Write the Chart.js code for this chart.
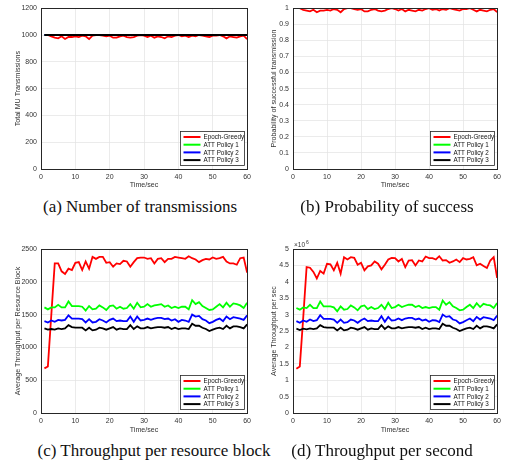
<!DOCTYPE html>
<html>
<head>
<meta charset="utf-8">
<script src="https://cdn.jsdelivr.net/npm/chart.js@4"></script>
<style>
  body { margin: 0; background: #fff; }
  #page { position: relative; width: 505px; height: 467px; overflow: hidden; }
  canvas { position: absolute; }
  .cap { position: absolute; font-family: "Liberation Serif", "DejaVu Serif", serif; font-size: 17px; color: #111; white-space: nowrap; transform: translate(-50%, -50%); }
</style>
</head>
<body>
<div id="page">
  <canvas id="chartA" width="255" height="192" style="left:0;top:0"></canvas>
  <canvas id="chartB" width="255" height="192" style="left:250px;top:0"></canvas>
  <canvas id="chartC" width="255" height="205" style="left:0;top:230px"></canvas>
  <canvas id="chartD" width="255" height="205" style="left:250px;top:230px"></canvas>
  <div class="cap" style="left:140px;top:207px">(a) Number of transmissions</div>
  <div class="cap" style="left:387px;top:207px">(b) Probability of success</div>
  <div class="cap" style="left:154px;top:451px">(c) Throughput per resource block</div>
  <div class="cap" style="left:382px;top:451px">(d) Throughput per second</div>
</div>
<script>
const seriesNames = ['Epoch-Greedy', 'ATT Policy 1', 'ATT Policy 2', 'ATT Policy 3'];
const seriesColors = ['#ff0000', '#00ff00', '#0000ff', '#000000'];

const time = [1, 2, 3, 4, 5, 6, 7, 8, 9, 10, 11, 12, 13, 14, 15, 16, 17, 18, 19, 20,
  21, 22, 23, 24, 25, 26, 27, 28, 29, 30, 31, 32, 33, 34, 35, 36, 37, 38, 39, 40,
  41, 42, 43, 44, 45, 46, 47, 48, 49, 50, 51, 52, 53, 54, 55, 56, 57, 58, 59, 60];

// (a) total MU transmissions
const transGreedy = [1000, 1000, 990, 980, 975, 990, 970, 985, 985, 990, 985, 995, 990, 970, 995, 1000, 1000, 995, 990, 995,
  980, 980, 990, 995, 985, 980, 985, 995, 1000, 995, 985, 995, 980, 990, 985, 975, 990, 985, 995, 1000,
  990, 995, 985, 995, 990, 1000, 995, 990, 985, 995, 995, 1000, 990, 975, 990, 985, 980, 990, 995, 970];
const transAtt = [1000, 1000, 1000, 1000, 1000, 1000, 1000, 1000, 1000, 1000, 1000, 1000, 1000, 1000, 1000, 1000, 1000, 1000, 1000, 1000,
  1000, 1000, 1000, 1000, 1000, 1000, 1000, 1000, 1000, 1000, 1000, 1000, 1000, 1000, 1000, 1000, 1000, 1000, 1000, 1000,
  1000, 1000, 1000, 1000, 1000, 1000, 1000, 1000, 1000, 1000, 1000, 1000, 1000, 1000, 1000, 1000, 1000, 1000, 1000, 1000];

// (b) probability of successful transmission
const probGreedy = [1, 1, 0.99, 0.985, 0.98, 0.99, 0.975, 0.985, 0.985, 0.99, 0.985, 0.995, 0.99, 0.975, 0.995, 1, 1, 0.995, 0.99, 0.995,
  0.98, 0.98, 0.99, 0.995, 0.985, 0.98, 0.985, 0.995, 1, 0.995, 0.985, 0.995, 0.98, 0.99, 0.985, 0.98, 0.99, 0.985, 0.995, 1,
  0.99, 0.995, 0.985, 0.995, 0.99, 1, 0.995, 0.99, 0.985, 0.995, 0.995, 1, 0.99, 0.98, 0.99, 0.985, 0.98, 0.99, 0.995, 0.975];
const probAtt = [1, 1, 1, 1, 1, 1, 1, 1, 1, 1, 1, 1, 1, 1, 1, 1, 1, 1, 1, 1,
  1, 1, 1, 1, 1, 1, 1, 1, 1, 1, 1, 1, 1, 1, 1, 1, 1, 1, 1, 1,
  1, 1, 1, 1, 1, 1, 1, 1, 1, 1, 1, 1, 1, 1, 1, 1, 1, 1, 1, 1];

// (c) average throughput per resource block
const rbGreedy = [680, 710, 1495, 2280, 2280, 2160, 2120, 2200, 2180, 2290, 2300, 2180, 2310, 2200, 2380, 2350, 2380, 2380, 2290, 2300,
  2230, 2280, 2270, 2320, 2310, 2230, 2300, 2360, 2370, 2370, 2350, 2360, 2280, 2350, 2360, 2300, 2350, 2350, 2380, 2370,
  2360, 2350, 2390, 2360, 2340, 2300, 2330, 2350, 2340, 2370, 2350, 2360, 2380, 2310, 2280, 2280, 2260, 2360, 2370, 2140];
const rbPolicy1 = [1610, 1580, 1610, 1610, 1650, 1610, 1610, 1700, 1630, 1630, 1630, 1620, 1560, 1630, 1580, 1590, 1640, 1610, 1570, 1630,
  1640, 1590, 1620, 1590, 1600, 1660, 1590, 1680, 1610, 1620, 1660, 1620, 1640, 1650, 1660, 1620, 1640, 1600, 1620, 1600,
  1620, 1620, 1580, 1720, 1660, 1690, 1630, 1600, 1570, 1580, 1620, 1660, 1610, 1680, 1620, 1670, 1660, 1640, 1600, 1680];
const rbPolicy2 = [1400, 1380, 1410, 1390, 1420, 1410, 1420, 1490, 1440, 1440, 1440, 1430, 1380, 1430, 1380, 1390, 1430, 1410, 1380, 1420,
  1440, 1400, 1410, 1400, 1400, 1470, 1390, 1470, 1410, 1420, 1440, 1420, 1440, 1450, 1450, 1430, 1440, 1410, 1430, 1390,
  1420, 1410, 1390, 1500, 1470, 1480, 1430, 1410, 1370, 1390, 1420, 1440, 1400, 1470, 1430, 1460, 1450, 1440, 1420, 1490];
const rbPolicy3 = [1290, 1270, 1280, 1270, 1290, 1280, 1290, 1340, 1310, 1300, 1300, 1300, 1260, 1300, 1260, 1270, 1300, 1290, 1270, 1290,
  1310, 1270, 1290, 1280, 1280, 1340, 1280, 1320, 1290, 1290, 1310, 1290, 1300, 1310, 1310, 1300, 1310, 1280, 1300, 1280,
  1290, 1290, 1280, 1360, 1330, 1330, 1300, 1280, 1250, 1270, 1290, 1300, 1280, 1330, 1290, 1320, 1320, 1310, 1290, 1350];

// (d) average throughput per sec, in units of 10^6
const secGreedy = [1.35, 1.42, 2.9, 4.45, 4.43, 4.3, 4.1, 4.33, 4.25, 4.55, 4.53, 4.35, 4.58, 4.25, 4.75, 4.68, 4.75, 4.73, 4.52, 4.58,
  4.35, 4.47, 4.5, 4.62, 4.55, 4.38, 4.52, 4.68, 4.73, 4.72, 4.62, 4.7, 4.45, 4.65, 4.66, 4.5, 4.65, 4.62, 4.77, 4.72,
  4.72, 4.68, 4.78, 4.65, 4.66, 4.58, 4.62, 4.68, 4.6, 4.72, 4.68, 4.7, 4.75, 4.5, 4.55, 4.48, 4.42, 4.65, 4.75, 4.12];
const secPolicy1 = [3.2, 3.15, 3.22, 3.2, 3.3, 3.2, 3.2, 3.4, 3.25, 3.25, 3.25, 3.22, 3.1, 3.25, 3.15, 3.17, 3.28, 3.22, 3.13, 3.25,
  3.28, 3.17, 3.23, 3.17, 3.2, 3.3, 3.17, 3.36, 3.2, 3.23, 3.3, 3.23, 3.27, 3.3, 3.3, 3.23, 3.27, 3.2, 3.23, 3.2,
  3.23, 3.23, 3.15, 3.43, 3.3, 3.38, 3.25, 3.2, 3.13, 3.15, 3.23, 3.3, 3.2, 3.35, 3.23, 3.33, 3.3, 3.28, 3.2, 3.35];
const secPolicy2 = [2.8, 2.75, 2.82, 2.78, 2.85, 2.8, 2.83, 2.98, 2.87, 2.87, 2.87, 2.85, 2.75, 2.85, 2.75, 2.77, 2.85, 2.82, 2.75, 2.83,
  2.88, 2.8, 2.82, 2.8, 2.8, 2.95, 2.78, 2.93, 2.82, 2.83, 2.88, 2.83, 2.88, 2.9, 2.9, 2.85, 2.88, 2.82, 2.85, 2.78,
  2.83, 2.82, 2.77, 3.0, 2.93, 2.95, 2.85, 2.82, 2.73, 2.77, 2.83, 2.88, 2.8, 2.93, 2.85, 2.92, 2.9, 2.88, 2.83, 2.97];
const secPolicy3 = [2.57, 2.53, 2.57, 2.55, 2.58, 2.56, 2.58, 2.68, 2.62, 2.6, 2.6, 2.6, 2.52, 2.6, 2.52, 2.54, 2.6, 2.58, 2.54, 2.58,
  2.62, 2.54, 2.58, 2.56, 2.56, 2.68, 2.56, 2.64, 2.58, 2.58, 2.62, 2.58, 2.6, 2.62, 2.62, 2.6, 2.62, 2.56, 2.6, 2.56,
  2.58, 2.58, 2.56, 2.72, 2.66, 2.66, 2.6, 2.56, 2.5, 2.54, 2.58, 2.6, 2.56, 2.66, 2.58, 2.64, 2.64, 2.62, 2.58, 2.7];

const AXIS_FONT = { family: '"Liberation Sans", Arial, sans-serif', size: 7 };
const TITLE_FONT = { family: '"Liberation Sans", Arial, sans-serif', size: 7.1 };

// plain tick text: 1200 not 1,200, 1 not 1.0
const plainTick = v => String(Math.round(v * 1000) / 1000);

// matlab-ish box + legend inside the plot, bottom right
const boxLegend = {
  id: 'boxLegend',
  afterDraw(chart) {
    const { ctx, chartArea: a } = chart;
    ctx.save();
    ctx.strokeStyle = '#262626';
    ctx.lineWidth = 1;
    ctx.strokeRect(Math.round(a.left) + 0.5, Math.round(a.top) + 0.5, Math.round(a.right - a.left), Math.round(a.bottom - a.top));

    const w = 64, h = 34;
    const x0 = Math.round(a.right - 3 - w) + 0.5, y0 = Math.round(a.bottom - 4 - h) + 0.5;
    ctx.fillStyle = '#fff';
    ctx.fillRect(x0, y0, w, h);
    ctx.lineWidth = 0.8;
    ctx.strokeRect(x0, y0, w, h);
    ctx.font = '6.3px "Liberation Sans", Arial, sans-serif';
    ctx.textBaseline = 'middle';
    chart.data.datasets.forEach((ds, i) => {
      const y = y0 + 5.5 + i * 7.7;
      ctx.strokeStyle = ds.borderColor;
      ctx.lineWidth = 2;
      ctx.beginPath();
      ctx.moveTo(x0 + 3, y);
      ctx.lineTo(x0 + 20, y);
      ctx.stroke();
      ctx.fillStyle = '#111';
      ctx.fillText(ds.label, x0 + 23, y + 0.5);
    });

    if (chart.options.expLabel) {
      ctx.fillStyle = '#333';
      ctx.font = '6.5px "Liberation Sans", Arial, sans-serif';
      ctx.textBaseline = 'alphabetic';
      ctx.fillText('\u00d710', a.left + 1, a.top - 2);
      ctx.font = '5px "Liberation Sans", Arial, sans-serif';
      ctx.fillText('6', a.left + 13, a.top - 5);
    }
    ctx.restore();
  }
};

function makeChart(id, lists, yOpts) {
  const datasets = lists.map((vals, i) => ({
    label: seriesNames[i],
    data: vals.map((v, j) => ({ x: time[j], y: v })),
    borderColor: seriesColors[i],
    backgroundColor: seriesColors[i],
    borderWidth: 1.8,
    pointRadius: 0,
    tension: 0,
    order: 3 - i // later series on top, like matlab
  }));
  return new Chart(document.getElementById(id), {
    type: 'line',
    data: { datasets },
    options: {
      responsive: false,
      animation: false,
      expLabel: yOpts.exp || false,
      layout: { padding: { left: 0, right: 4, top: yOpts.top, bottom: 0 } },
      plugins: { legend: { display: false }, tooltip: { enabled: false } },
      scales: {
        x: {
          type: 'linear', min: 0, max: 60,
          ticks: { stepSize: 10, font: AXIS_FONT, color: '#333', padding: 4, maxRotation: 0, callback: plainTick },
          grid: { color: '#e3e3e3', lineWidth: 0.7, drawTicks: false },
          border: { display: false },
          title: { display: true, text: 'Time/sec', font: TITLE_FONT, color: '#333', padding: { top: 0, bottom: yOpts.xTitlePad } },
          afterFit: s => { s.height = yOpts.xHeight; }
        },
        y: {
          min: yOpts.min, max: yOpts.max,
          ticks: { stepSize: yOpts.step, font: AXIS_FONT, color: '#333', padding: 4, callback: plainTick },
          grid: { color: '#e3e3e3', lineWidth: 0.7, drawTicks: false },
          border: { display: false },
          title: { display: true, text: yOpts.title, font: TITLE_FONT, color: '#333', padding: { top: yOpts.titlePad, bottom: 0 } },
          afterFit: s => { s.width = yOpts.width; }
        }
      }
    },
    plugins: [boxLegend]
  });
}

makeChart('chartA', [transGreedy, transAtt, transAtt, transAtt],
  { min: 0, max: 1200, step: 200, title: 'Total MU Transmissions', width: 41, titlePad: 14, top: 5, xHeight: 23, xTitlePad: 2.5 });
makeChart('chartB', [probGreedy, probAtt, probAtt, probAtt],
  { min: 0, max: 1, step: 0.1, title: 'Probability of successful transmission', width: 43, titlePad: 20, top: 5, xHeight: 23, xTitlePad: 2.5 });
makeChart('chartC', [rbGreedy, rbPolicy1, rbPolicy2, rbPolicy3],
  { min: 0, max: 2500, step: 500, title: 'Average Throughput per Resource Block', width: 41, titlePad: 14, top: 19, xHeight: 22, xTitlePad: 0.5 });
makeChart('chartD', [secGreedy, secPolicy1, secPolicy2, secPolicy3],
  { min: 0, max: 5, step: 0.5, title: 'Average Throughput per sec', width: 43, titlePad: 20, top: 19, xHeight: 22, xTitlePad: 0.5, exp: true });
</script>
</body>
</html>
